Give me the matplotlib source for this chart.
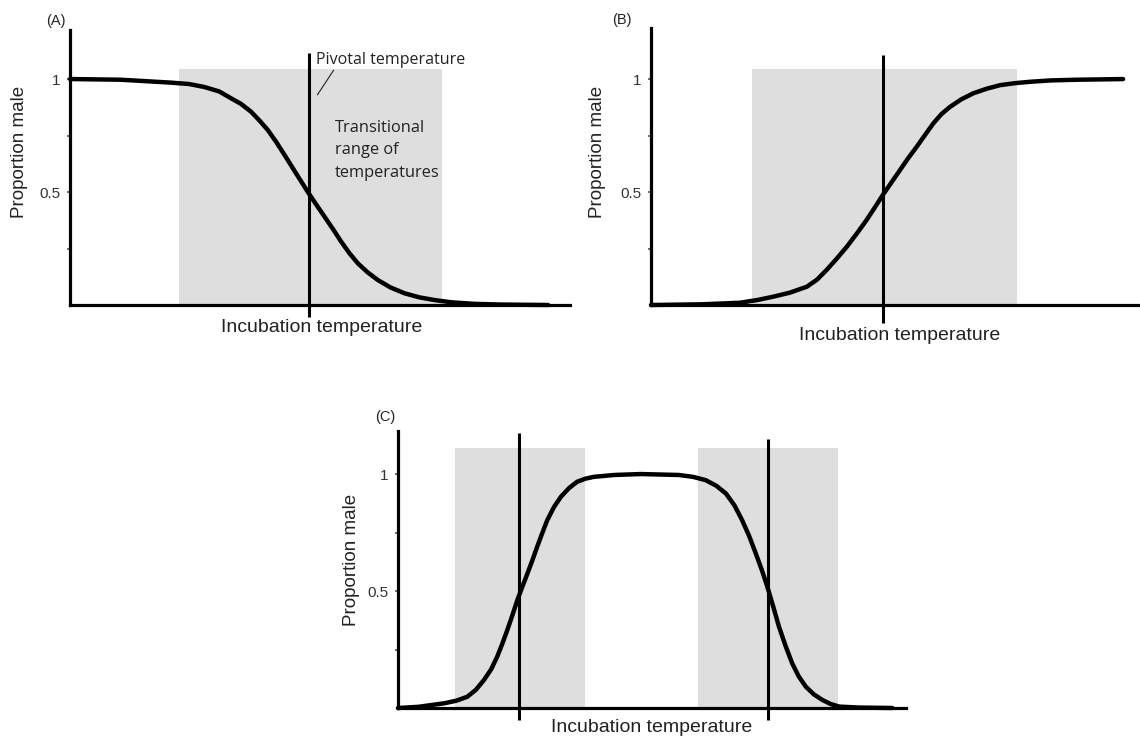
import matplotlib
matplotlib.use("Agg")
import matplotlib.pyplot as plt

# values (temperature in arbitrary units)
temp_a = [0, 10, 20, 23.5, 26.5, 29.5, 31.8, 33.8, 35.8, 37.5, 39.1, 40.8, 42.4,
          43.8, 45.0, 47.3, 48.8, 50.3, 52.0, 53.6, 55.2, 56.9, 58.8, 60.8, 63.3,
          66.1, 69.0, 72.0, 75.3, 80, 85, 94.5]
male_a = [1.0, 0.997, 0.984, 0.978, 0.965, 0.945, 0.915, 0.89, 0.855, 0.815, 0.774,
          0.72, 0.664, 0.614, 0.571, 0.49, 0.44, 0.391, 0.335, 0.28, 0.23, 0.184,
          0.145, 0.111, 0.078, 0.052, 0.034, 0.022, 0.012, 0.005, 0.002, 0.0]
pivot_a = [47.3]
range_a = [(21.5, 73.6)]

temp_b = [0, 10, 17.6, 21, 24.2, 27.5, 30.8, 32.8, 34.7, 36.7, 38.7, 40.7, 42.6,
          44.3, 45.9, 47.6, 49.2, 50.8, 52.5, 54.2, 55.8, 57.4, 59.1, 61.3, 63.7,
          66.3, 69.0, 72, 74.9, 79, 84, 93.3]
male_b = [0, 0.003, 0.01, 0.022, 0.037, 0.055, 0.081, 0.112, 0.155, 0.205, 0.258,
          0.317, 0.376, 0.434, 0.49, 0.545, 0.597, 0.649, 0.70, 0.754, 0.804, 0.845,
          0.877, 0.91, 0.937, 0.957, 0.973, 0.982, 0.988, 0.994, 0.997, 1.0]
pivot_b = [45.9]
range_b = [(19.9, 72.3)]

temp_c = [0, 4, 9.1, 11.5, 13.7, 15.4, 17.0, 18.4, 19.6, 20.6, 21.6, 22.6, 23.6,
          24.6, 25.6, 26.6, 27.5, 28.5, 29.5, 30.8, 32.2, 33.8, 35.4, 37, 38.7,
          42.7, 48, 55.5, 58.3, 60.8, 62.9, 64.8, 66.5, 68.0, 69.4, 70.7, 71.9,
          73.0, 74.2, 75.3, 76.6, 77.9, 79.2, 80.6, 82.2, 83.9, 85.5, 87.2, 91, 97.7]
male_c = [0, 0.005, 0.02, 0.031, 0.048, 0.078, 0.12, 0.165, 0.219, 0.274, 0.333,
          0.396, 0.462, 0.52, 0.576, 0.634, 0.689, 0.747, 0.803, 0.858, 0.903, 0.94,
          0.967, 0.98, 0.988, 0.996, 1.0, 0.996, 0.988, 0.974, 0.95, 0.917, 0.866,
          0.803, 0.735, 0.661, 0.59, 0.518, 0.43, 0.347, 0.265, 0.191, 0.135, 0.091,
          0.058, 0.034, 0.017, 0.006, 0.002, 0.0]
pivot_c = [23.9, 73.2]
range_c = [(11.2, 36.9), (59.2, 86.9)]

W, H = 1140, 740
PX_PER_UNIT = 5.06
SANS = ["Liberation Sans", "DejaVu Sans"]
NOTE = ["Open Sans", "DejaVu Sans"]
GREY = "#dedede"

fig = plt.figure(figsize=(W / 100, H / 100), dpi=100)


def fx(px):
    return px / W


def fy(py):
    return 1 - py / H


def make_axes(left, top, right, bottom, ymax):
    ax = fig.add_axes([fx(left), fy(bottom), (right - left) / W, (bottom - top) / H])
    ax.set_xlim(0, (right - left) / PX_PER_UNIT)
    ax.set_ylim(0, ymax)
    for s in ["top", "right"]:
        ax.spines[s].set_visible(False)
    for s in ["left", "bottom"]:
        ax.spines[s].set_linewidth(2.3)
        ax.spines[s].set_color("black")
    ax.set_xticks([])
    ax.set_yticks([0.5, 1])
    ax.set_yticklabels(["0.5", "1"], family=SANS, fontsize=11, color="#333333")
    ax.set_yticks([0.25, 0.75], minor=True)
    ax.tick_params(axis="y", which="both", length=2, width=1.3, color="#666666", pad=5)
    return ax


def draw_panel(ax, temp, male, pivots, ranges, shade_top, line_tops, line_bottom):
    for lo, hi in ranges:
        ax.fill_betweenx([0, shade_top], lo, hi, color=GREY, lw=0, zorder=1)
    ax.plot(temp, male, color="black", lw=3.2, solid_capstyle="round",
            solid_joinstyle="round", zorder=4, clip_on=False)
    for p, t in zip(pivots, line_tops):
        ax.vlines(p, line_bottom, t, color="black", lw=2.2, zorder=5, clip_on=False)


# (A)
ax_a = make_axes(70, 30, 570, 305, 1.217)
draw_panel(ax_a, temp_a, male_a, pivot_a, range_a, 1.044, [1.115], -0.055)
ax_a.text(48.6, 1.084, "Pivotal temperature", family=NOTE, fontsize=11.5,
          color="#222222", ha="left", va="center")
ax_a.annotate("", xy=(48.6, 0.92), xytext=(52.4, 1.049),
              arrowprops=dict(arrowstyle="-", lw=0.8, color="#222222"))
ax_a.text(52.4, 0.818, "Transitional\nrange of\ntemperatures", family=NOTE,
          fontsize=11.8, color="#222222", ha="left", va="top", linespacing=1.52)

# (B)
ax_b = make_axes(651, 28, 1140, 305, 1.226)
draw_panel(ax_b, temp_b, male_b, pivot_b, range_b, 1.044, [1.106], -0.078)

# (C)
ax_c = make_axes(398, 431, 906, 708, 1.184)
draw_panel(ax_c, temp_c, male_c, pivot_c, range_c, 1.113, [1.175, 1.15], -0.05)

# labels
for x, y, s in [(56, 21, "(A)"), (622, 20, "(B)"), (385, 417, "(C)")]:
    fig.text(fx(x), fy(y), s, family=SANS, fontsize=10.5, color="#222222",
             ha="center", va="center")
for x, y in [(20, 152), (598, 152), (352, 560)]:
    fig.text(fx(x), fy(y), "Proportion male", family=SANS, fontsize=13.5,
             color="#222222", rotation=90, ha="center", va="center")
for x, y in [(322, 328), (900, 336), (652, 728)]:
    fig.text(fx(x), fy(y), "Incubation temperature", family=SANS, fontsize=14,
             color="#222222", ha="center", va="center")

fig.savefig("out.png", dpi=100, facecolor="white")
